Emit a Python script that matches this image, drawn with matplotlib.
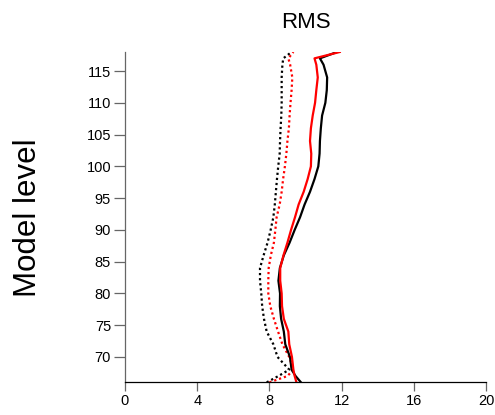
import matplotlib
matplotlib.use("Agg")
import matplotlib.pyplot as plt

plt.rcParams['font.family'] = ['Liberation Sans', 'DejaVu Sans']

# Model levels at which the RMS profiles are sampled
levels = [66, 67, 68, 70, 72, 74, 76, 78, 80, 82, 84, 86, 88, 90, 92, 94,
          96, 98, 100, 102, 104, 106, 108, 110, 112, 114, 116, 117, 118]

# RMS profiles (solid and dotted experiments, black and red)
black_solid = [9.75, 9.45, 9.23, 9.14, 8.88, 8.80, 8.65, 8.58, 8.59, 8.50,
               8.58, 8.80, 9.12, 9.40, 9.70, 9.95, 10.25, 10.50, 10.71, 10.78,
               10.80, 10.85, 10.92, 11.10, 11.18, 11.20, 11.00, 10.80, 11.75]
red_solid = [9.50, 9.40, 9.33, 9.25, 9.10, 9.05, 8.80, 8.70, 8.68, 8.60,
             8.60, 8.78, 9.00, 9.20, 9.42, 9.62, 9.90, 10.12, 10.30, 10.32,
             10.25, 10.30, 10.40, 10.53, 10.60, 10.68, 10.60, 10.50, 11.90]
black_dotted = [7.85, 8.50, 9.10, 8.45, 8.22, 7.85, 7.70, 7.60, 7.55, 7.48,
                7.48, 7.68, 7.90, 8.07, 8.22, 8.30, 8.36, 8.42, 8.49, 8.57,
                8.59, 8.62, 8.66, 8.68, 8.68, 8.68, 8.72, 8.77, 9.23]
red_dotted = [8.00, 9.00, 9.33, 9.10, 8.72, 8.48, 8.25, 8.05, 7.94, 7.94,
              7.96, 8.08, 8.25, 8.33, 8.40, 8.57, 8.68, 8.76, 8.86, 8.94,
              9.00, 9.08, 9.12, 9.17, 9.23, 9.27, 9.15, 9.05, 9.33]

xticks = [0, 4, 8, 12, 16, 20]
yticks = [70, 75, 80, 85, 90, 95, 100, 105, 110, 115]

fig = plt.figure(figsize=(4.95, 4.15), dpi=100)
ax = fig.add_axes([0.2525, 0.0786, 0.7293, 0.7961])

lw = 1.6
ax.plot(black_dotted, levels, color='black', lw=lw, linestyle=(0, (1, 1.3)))
ax.plot(red_dotted, levels, color='red', lw=lw, linestyle=(0, (1, 1.3)))
ax.plot(black_solid, levels, color='black', lw=lw)
ax.plot(red_solid, levels, color='red', lw=lw)

ax.set_xlim(0, 20)
ax.set_ylim(66, 118)
ax.set_xticks(xticks)
ax.set_yticks(yticks)

for side in ('top', 'right'):
    ax.spines[side].set_visible(False)
ax.spines['left'].set_color('#666666')
ax.spines['left'].set_linewidth(0.9)
ax.spines['bottom'].set_color('black')
ax.spines['bottom'].set_linewidth(0.9)

ax.tick_params(axis='y', length=8, width=0.9, color='#666666',
               labelsize=10.5, pad=2)
ax.tick_params(axis='x', length=6.5, width=0.9, color='#666666',
               labelsize=10.5, pad=2)

ax.set_title('RMS', fontsize=16, pad=17)
ax.set_ylabel('Model level', fontsize=22.5, labelpad=31)

fig.savefig('out.png', dpi=100)
